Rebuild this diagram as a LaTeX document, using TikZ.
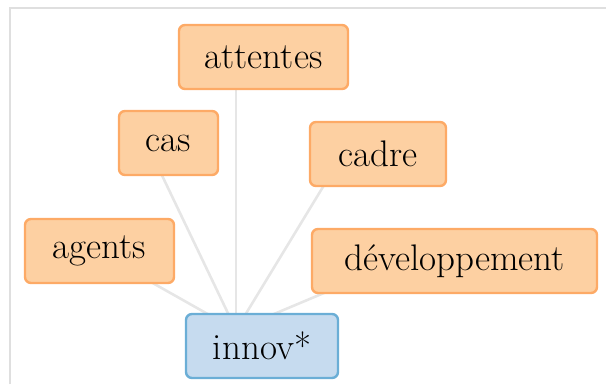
\documentclass[tikz,border=0pt]{standalone}
\usetikzlibrary{backgrounds}

\definecolor{termfill}{HTML}{FDD0A2}
\definecolor{termline}{HTML}{FDAA66}
\definecolor{rootfill}{HTML}{C6DBEF}
\definecolor{rootline}{HTML}{6BAED6}
\definecolor{linkgray}{HTML}{E6E6E6}

\tikzset{
    term/.style={draw=termline, fill=termfill, line width=2.4pt, rounded corners=6pt,
        minimum height=64pt, inner xsep=10pt, font=\fontsize{37}{44}\selectfont},
    root/.style={term, draw=rootline, fill=rootfill},
    link/.style={draw=linkgray, line width=2.6pt}
}

\begin{document}
\begin{tikzpicture}[x=1pt, y=1pt]
    \useasboundingbox (0,0) rectangle (606,384);
    % frame
    \draw[gray!25, line width=1.4pt] (10,0) -- (10,376) -- (606,376);

    \node[term, minimum width=169pt] (attentes) at (263.5,327) {attentes};
    \node[term, minimum width=99pt] (cas) at (168.5,241) {cas};
    \node[term, minimum width=136pt] (cadre) at (378,230) {cadre};
    \node[term, minimum width=149pt] (agents) at (99.5,133) {agents};
    \node[term, minimum width=285pt] (developpement) at (454.5,123) {développement};
    \node[root, minimum width=152pt] (innov) at (262,38) {innov*};

    \begin{pgfonlayer}{background}
        \coordinate (hub) at ([shift={(-26,16)}]innov.center);
        \draw[link] (hub) -- ([xshift=-27.5]attentes.center);
        \draw[link] (hub) -- ([xshift=-22]cas.center);
        \draw[link] (hub) -- ([xshift=-35]cadre.center);
        \draw[link] (hub) -- ([xshift=-3.5]agents.center);
        \draw[link] (hub) -- ([xshift=-54.5]developpement.center);
    \end{pgfonlayer}
\end{tikzpicture}
\end{document}
